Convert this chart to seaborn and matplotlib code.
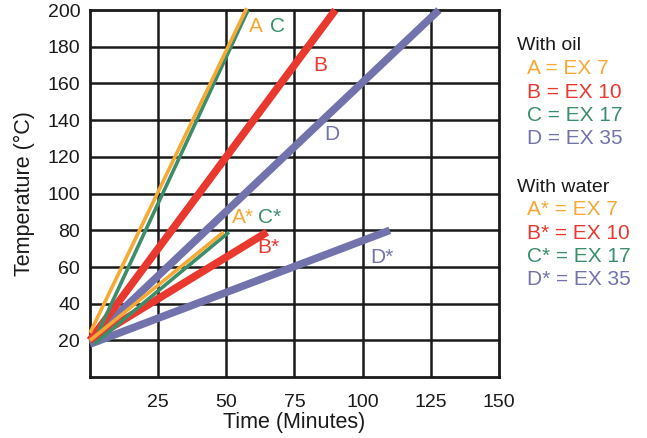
import pandas as pd
import matplotlib
matplotlib.use("Agg")
import matplotlib.pyplot as plt
import seaborn as sns

# lines: start/end points
series = ["D", "B", "C", "A", "D*", "B*", "C*", "A*"]
medium = ["oil"] * 4 + ["water"] * 4
start_time = [0, 0, 1, 0, 0, 0, 1.5, 0]
start_temp = [20, 20, 18, 24, 18, 20, 18, 20]
end_time = [128, 90, 58, 57.5, 110, 65, 51, 49]
end_temp = [200, 200, 200, 201, 80, 79, 79, 79]
thickness = ["thick", "thick", "thin", "thin", "thick", "thick", "thin", "thin"]

colors = {"A": "#F6A934", "B": "#E9392F", "C": "#3B8E6C", "D": "#7272AC"}

x_ticks = [25, 50, 75, 100, 125, 150]
y_ticks = [20, 40, 60, 80, 100, 120, 140, 160, 180, 200]

legend_oil = ["A = EX 7", "B = EX 10", "C = EX 17", "D = EX 35"]
legend_water = ["A* = EX 7", "B* = EX 10", "C* = EX 17", "D* = EX 35"]

rows = []
for i, s in enumerate(series):
    rows.append({"series": s, "time": start_time[i], "temp": start_temp[i], "w": thickness[i]})
    rows.append({"series": s, "time": end_time[i], "temp": end_temp[i], "w": thickness[i]})
df = pd.DataFrame(rows)
palette = {s: colors[s[0]] for s in series}

sns.set_style("white")
plt.rcParams["font.family"] = ["Liberation Sans", "DejaVu Sans"]

fig = plt.figure(figsize=(6.47, 4.38), dpi=100)
ax = fig.add_axes([0.139, 0.139, 0.632, 0.838])

for v in x_ticks[:-1]:
    ax.axvline(v, color="#1a1a1a", lw=1.8, zorder=1)
for v in y_ticks[:-1]:
    ax.axhline(v, color="#1a1a1a", lw=1.8, zorder=1)

sns.lineplot(data=df, x="time", y="temp", hue="series", units="series", estimator=None,
             size="w", sizes={"thin": 2.6, "thick": 5.5}, palette=palette, sort=False,
             legend=False, ax=ax, zorder=3)
for line in ax.lines[-8:]:
    line.set_solid_capstyle("butt")
    line.set_clip_on(False)

ax.set_xlim(0, 150)
ax.set_ylim(0, 200)
ax.set_xticks(x_ticks)
ax.set_yticks(y_ticks)
ax.tick_params(length=0, labelsize=14, colors="#1a1a1a")
ax.tick_params(axis="x", pad=12)
ax.tick_params(axis="y", pad=7)
for sp in ax.spines.values():
    sp.set_color("#1a1a1a")
    sp.set_linewidth(2)
ax.set_xlabel("Time (Minutes)", fontsize=15.5, color="#1a1a1a", labelpad=1)
ax.set_ylabel("Temperature (°C)", fontsize=15.5, color="#1a1a1a", labelpad=9)

# line labels
lab = dict(fontsize=15, va="center", ha="left")
ax.text(58.5, 191, "A", color=colors["A"], **lab)
ax.text(66, 191, "C", color=colors["C"], **lab)
ax.text(82, 170, "B", color=colors["B"], **lab)
ax.text(86, 132, "D", color=colors["D"], **lab)
ax.text(52, 87, "A*", color=colors["A"], **lab)
ax.text(61.5, 87, "C*", color=colors["C"], **lab)
ax.text(61.5, 70.5, "B*", color=colors["B"], **lab)
ax.text(103, 65, "D*", color=colors["D"], **lab)

# text legend at right
fig.text(517 / 647, 1 - 45 / 438, "With oil", fontsize=14, color="#1a1a1a", va="center")
for i, t in enumerate(legend_oil):
    fig.text(527 / 647, 1 - (69 + 23.3 * i) / 438, t, fontsize=15,
             color=colors[t[0]], va="center")
fig.text(517 / 647, 1 - 187 / 438, "With water", fontsize=14, color="#1a1a1a", va="center")
for i, t in enumerate(legend_water):
    fig.text(527 / 647, 1 - (210 + 23.3 * i) / 438, t, fontsize=15,
             color=colors[t[0]], va="center")

fig.savefig("out.png", dpi=100)
